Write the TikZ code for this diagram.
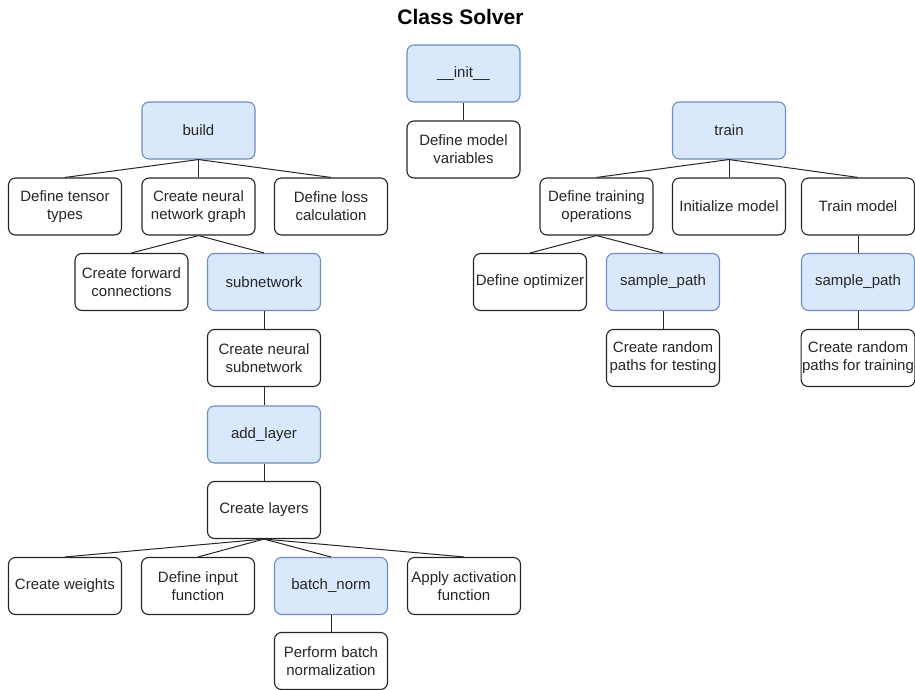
\documentclass[tikz,border=0pt]{standalone}
\usepackage{fontspec}
\setmainfont{Liberation Sans}
\begin{document}
\begin{tikzpicture}[x=1pt,y=-1pt,
  box/.style={draw=black!85, line width=1.1pt, rounded corners=7pt, fill=white,
    minimum width=113pt, minimum height=57pt, inner sep=1pt, align=center,
    text=black!85, font=\fontsize{15}{18}\selectfont},
  method/.style={box, draw=blue!25!gray!80!cyan, draw={rgb,255:red,108;green,142;blue,191}, fill={rgb,255:red,218;green,232;blue,252}},
  link/.style={draw=black!85, line width=1pt}]
\useasboundingbox (0,0) rectangle (915,690);

% title
\node (title) at (460.5,17) {\fontsize{21}{24}\selectfont\bfseries Class Solver};

% __init__
\node[method] (init) at (463.5,73.5) {\_\_init\_\_};
\node[box] (vars) at (463.5,149.5) {Define model\\variables};

% build branch
\node[method] (build) at (198.5,130.5) {build};
\node[box] (tensor) at (65,206.5) {Define tensor\\types};
\node[box] (graph) at (198.5,206.5) {Create neural\\network graph};
\node[box] (loss) at (331,206.5) {Define loss\\calculation};
\node[box] (forward) at (131.5,282) {Create forward\\connections};
\node[method] (subnet) at (264,282) {subnetwork};
\node[box] (neural) at (264,358) {Create neural\\subnetwork};
\node[method] (addlayer) at (264,434.5) {add\_layer};
\node[box] (layers) at (264,510) {Create layers};
\node[box] (weights) at (65,586) {Create weights};
\node[box] (input) at (198,586) {Define input\\function};
\node[method] (bnorm) at (331,586) {batch\_norm};
\node[box] (act) at (464,586) {Apply activation\\function};
\node[box] (perform) at (331,661) {Perform batch\\normalization};

% train branch
\node[method] (train) at (729,130.5) {train};
\node[box] (ops) at (596.5,206.5) {Define training\\operations};
\node[box] (initm) at (729,206.5) {Initialize model};
\node[box] (trainm) at (858,206.5) {Train model};
\node[box] (optim) at (530,282) {Define optimizer};
\node[method] (spath1) at (663,282) {sample\_path};
\node[box] (rtest) at (663,358) {Create random\\paths for testing};
\node[method] (spath2) at (858,282) {sample\_path};
\node[box] (rtrain) at (858,358) {Create random\\paths for training};

% connectors
\foreach \p/\c in {init/vars,
    build/tensor, build/graph, build/loss,
    graph/forward, graph/subnet,
    subnet/neural, neural/addlayer, addlayer/layers,
    layers/weights, layers/input, layers/bnorm, layers/act,
    bnorm/perform,
    train/ops, train/initm, train/trainm,
    ops/optim, ops/spath1, spath1/rtest,
    trainm/spath2, spath2/rtrain}
  \draw[link] (\p.south) -- (\c.north);
\end{tikzpicture}
\end{document}
